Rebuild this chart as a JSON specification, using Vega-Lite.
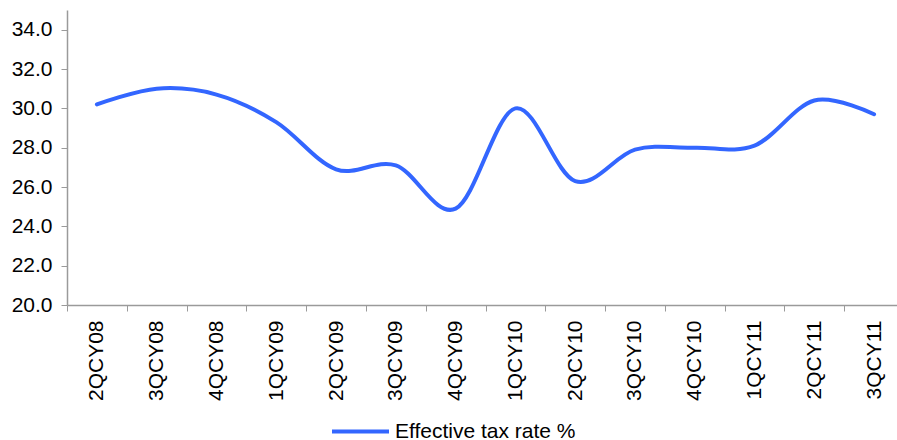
{
  "$schema": "https://vega.github.io/schema/vega-lite/v6.json",
  "width": 830,
  "height": 295,
  "autosize": {"type": "none"},
  "padding": {"left": 67, "top": 10, "right": 0, "bottom": 135},
  "background": "white",
  "config": {
    "view": {"stroke": null},
    "font": "Liberation Sans",
    "axis": {
      "labelFont": "Liberation Sans",
      "labelFontSize": 21,
      "labelColor": "#000000",
      "domainColor": "#9a9a9a",
      "domainWidth": 1.5,
      "tickColor": "#9a9a9a",
      "tickWidth": 1,
      "tickSize": 6,
      "grid": false,
      "title": null
    }
  },
  "data": {
    "values": [
      {"quarter": "2QCY08", "rate": 30.2, "series": "Effective tax rate %"},
      {"quarter": "3QCY08", "rate": 31.0, "series": "Effective tax rate %"},
      {"quarter": "4QCY08", "rate": 30.7, "series": "Effective tax rate %"},
      {"quarter": "1QCY09", "rate": 29.3, "series": "Effective tax rate %"},
      {"quarter": "2QCY09", "rate": 26.9, "series": "Effective tax rate %"},
      {"quarter": "3QCY09", "rate": 27.1, "series": "Effective tax rate %"},
      {"quarter": "4QCY09", "rate": 24.9, "series": "Effective tax rate %"},
      {"quarter": "1QCY10", "rate": 30.0, "series": "Effective tax rate %"},
      {"quarter": "2QCY10", "rate": 26.3, "series": "Effective tax rate %"},
      {"quarter": "3QCY10", "rate": 27.9, "series": "Effective tax rate %"},
      {"quarter": "4QCY10", "rate": 28.0, "series": "Effective tax rate %"},
      {"quarter": "1QCY11", "rate": 28.1, "series": "Effective tax rate %"},
      {"quarter": "2QCY11", "rate": 30.4, "series": "Effective tax rate %"},
      {"quarter": "3QCY11", "rate": 29.7, "series": "Effective tax rate %"}
    ]
  },
  "mark": {
    "type": "line",
    "interpolate": "cardinal",
    "strokeWidth": 4,
    "strokeCap": "round",
    "strokeJoin": "round",
    "clip": false
  },
  "encoding": {
    "x": {
      "field": "quarter",
      "type": "ordinal",
      "sort": null,
      "bandPosition": 0.5,
      "scale": {"type": "band", "range": [0, 837], "paddingInner": 0, "paddingOuter": 0},
      "axis": {
        "labelAngle": -90,
        "labelPadding": 9,
        "tickBand": "extent",
        "labelOverlap": false
      }
    },
    "y": {
      "field": "rate",
      "type": "quantitative",
      "scale": {"domain": [20, 35], "nice": false, "zero": false},
      "axis": {
        "values": [20, 22, 24, 26, 28, 30, 32, 34],
        "format": ".1f",
        "labelPadding": 9
      }
    },
    "color": {
      "field": "series",
      "type": "nominal",
      "scale": {"range": ["#3366FF"]},
      "legend": {
        "title": null,
        "orient": "none",
        "legendX": 263,
        "legendY": 391,
        "direction": "horizontal",
        "padding": 0,
        "symbolType": "stroke",
        "symbolSize": 3249,
        "symbolStrokeWidth": 4,
        "labelFont": "Liberation Sans",
        "labelFontSize": 21,
        "labelColor": "#000000",
        "labelOffset": 4,
        "labelLimit": 0
      }
    }
  }
}
